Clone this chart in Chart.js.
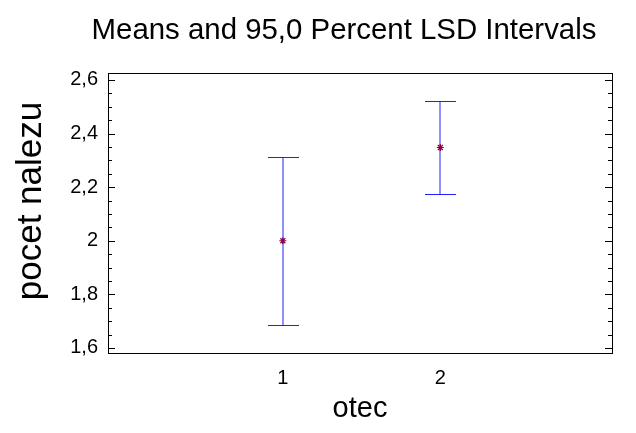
<!DOCTYPE html>
<html>
<head>
<meta charset="utf-8">
<script src="https://cdn.jsdelivr.net/npm/chart.js@4.4.1/dist/chart.umd.min.js"></script>
<style>
  html, body { margin: 0; padding: 0; background: #fff; }
  #wrap { width: 636px; height: 433px; }
</style>
</head>
<body>
<div id="wrap"><canvas id="myChart" width="636" height="433"></canvas></div>
<script>
// data
const categories = ['1', '2'];
const means = [2.0, 2.348];
const lower = [1.686, 2.176];
const upper = [2.313, 2.52];
const yTicks = [1.6, 1.8, 2.0, 2.2, 2.4, 2.6];

const titleText = 'Means and 95,0 Percent LSD Intervals';
const yTitle = 'pocet nalezu';

const fmt = v => String(Number(v.toFixed(2))).replace('.', ',');

// box, inward ticks, LSD interval bars, titles
const intervalPlugin = {
    id: 'intervals',
    beforeDatasetsDraw(chart) {
        const ctx = chart.ctx;
        const xs = chart.scales.x, ys = chart.scales.y;
        ctx.save();
        ctx.strokeStyle = '#2020ff';
        ctx.lineWidth = 1;
        categories.forEach((c, i) => {
            const x = Math.round(xs.getPixelForValue(i + 1));
            const yl = Math.round(ys.getPixelForValue(lower[i])) + 0.5;
            const yh = Math.round(ys.getPixelForValue(upper[i])) + 0.5;
            ctx.beginPath();
            ctx.moveTo(x, yl); ctx.lineTo(x, yh);
            ctx.moveTo(x - 15, yl); ctx.lineTo(x + 16, yl);
            ctx.moveTo(x - 15, yh); ctx.lineTo(x + 16, yh);
            ctx.stroke();
        });
        ctx.restore();
    },
    afterDraw(chart) {
        const ctx = chart.ctx;
        const a = chart.chartArea;
        const ys = chart.scales.y;
        ctx.save();
        ctx.strokeStyle = '#000';
        ctx.lineWidth = 1;
        ctx.strokeRect(Math.round(a.left) + 0.5, Math.round(a.top) + 0.5,
            Math.round(a.right - a.left), Math.round(a.bottom - a.top));
        ctx.beginPath();
        for (let k = 0; k <= 20; k++) {
            const v = 1.6 + k * 0.05;
            const y = Math.round(ys.getPixelForValue(v)) + 0.5;
            const len = k % 4 === 0 ? 7 : 4;
            ctx.moveTo(a.left, y); ctx.lineTo(a.left + len, y);
            ctx.moveTo(a.right, y); ctx.lineTo(a.right - len, y);
        }
        ctx.stroke();

        ctx.fillStyle = '#000';
        ctx.textAlign = 'center';
        ctx.textBaseline = 'middle';
        // main title
        ctx.font = '29.4px "Liberation Sans"';
        ctx.fillText(titleText, 344, 31);
        // y axis title
        ctx.translate(31, 201);
        ctx.rotate(-Math.PI / 2);
        ctx.font = '35px "Liberation Sans"';
        ctx.fillText(yTitle, 0, 0);
        ctx.restore();
    }
};

const ctx = document.getElementById('myChart').getContext('2d');
new Chart(ctx, {
    type: 'scatter',
    data: {
        datasets: [{
            label: 'Mean',
            data: categories.map((c, i) => ({ x: i + 1, y: means[i] })),
            pointStyle: 'star',
            radius: 3.5,
            borderColor: '#8b0045',
            backgroundColor: '#8b0045',
            borderWidth: 1.2
        }]
    },
    options: {
        responsive: false,
        animation: false,
        layout: { padding: { left: 52, right: 24, top: 73, bottom: 0 } },
        scales: {
            x: {
                type: 'linear',
                min: -0.11,
                max: 3.09,
                afterBuildTicks: s => { s.ticks = categories.map((c, i) => ({ value: i + 1 })); },
                afterFit: s => { s.height = 80; },
                grid: { display: false, drawTicks: false },
                border: { display: false },
                ticks: {
                    padding: 13,
                    color: '#000',
                    font: { family: 'Liberation Sans', size: 20 },
                    callback: (v) => categories[v - 1]
                },
                title: {
                    display: true,
                    text: 'otec',
                    color: '#000',
                    font: { family: 'Liberation Sans', size: 29 },
                    padding: { top: 0, bottom: 7 }
                }
            },
            y: {
                min: 1.581,
                max: 2.626,
                afterBuildTicks: s => { s.ticks = yTicks.map(v => ({ value: v })); },
                afterFit: s => { s.width = 56; },
                grid: { display: false, drawTicks: false },
                border: { display: false },
                ticks: {
                    padding: 10,
                    color: '#000',
                    font: { family: 'Liberation Sans', size: 20 },
                    callback: v => fmt(v)
                }
            }
        },
        plugins: {
            legend: { display: false },
            tooltip: { enabled: false },
            title: { display: false }
        }
    },
    plugins: [intervalPlugin]
});
</script>
</body>
</html>
